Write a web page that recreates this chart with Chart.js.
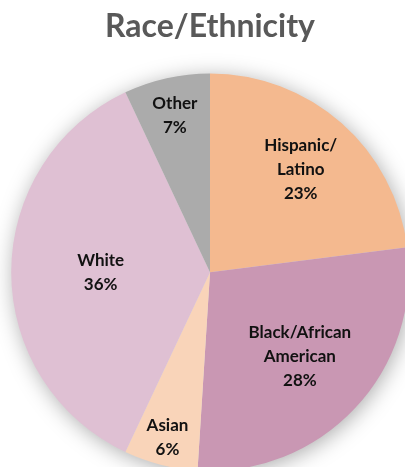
<!DOCTYPE html>
<html>
<head>
<meta charset="utf-8">
<script src="https://cdn.jsdelivr.net/npm/chart.js@4.4.0/dist/chart.umd.min.js"></script>
<style>
  html, body { margin: 0; padding: 0; background: #fff; }
  #wrap { position: relative; width: 405px; height: 467px; overflow: hidden; }
  #wrap canvas { position: absolute; left: 0; top: 0; }
</style>
</head>
<body>
<div id="wrap"><canvas id="raceChart" width="420" height="480" style="width:420px;height:480px"></canvas></div>
<script>
// Data
const categories = [['Hispanic/', 'Latino'], ['Black/African', 'American'], ['Asian'], ['White'], ['Other']];
const shares = [23, 28, 6, 36, 7];
const sliceColors = ['#F4B98F', '#C997B3', '#F9D4B9', '#DFC0D3', '#ABABAB'];
// how far out (fraction of radius) each label sits
const labelReach = [0.69, 0.62, 0.86, 0.55, 0.81];

// soft shadow under the pie
const pieShadow = {
    id: 'pieShadow',
    beforeDatasetsDraw(chart) {
        const arc = chart.getDatasetMeta(0).data[0];
        if (!arc) return;
        const ctx = chart.ctx;
        ctx.save();
        ctx.shadowColor = 'rgba(0,0,0,0.35)';
        ctx.shadowBlur = 22;
        ctx.shadowOffsetX = 2;
        ctx.shadowOffsetY = 3;
        ctx.fillStyle = '#ddd';
        ctx.beginPath();
        ctx.arc(arc.x, arc.y, arc.outerRadius - 1, 0, Math.PI * 2);
        ctx.fill();
        ctx.restore();
    }
};

// category + percent labels inside slices
const sliceLabels = {
    id: 'sliceLabels',
    afterDatasetsDraw(chart) {
        const ctx = chart.ctx;
        const meta = chart.getDatasetMeta(0);
        ctx.save();
        ctx.fillStyle = '#111';
        ctx.font = "bold 17px Lato, 'Open Sans', sans-serif";
        ctx.textAlign = 'center';
        ctx.textBaseline = 'middle';
        meta.data.forEach((arc, i) => {
            const mid = (arc.startAngle + arc.endAngle) / 2;
            const r = arc.outerRadius * labelReach[i];
            const cx = arc.x + Math.cos(mid) * r;
            const cy = arc.y + Math.sin(mid) * r;
            const lines = categories[i].concat([shares[i] + '%']);
            const lh = 24;
            const top = cy - (lines.length - 1) * lh / 2;
            lines.forEach((t, k) => ctx.fillText(t, cx, top + k * lh));
        });
        ctx.restore();
    }
};

const ctxRace = document.getElementById('raceChart').getContext('2d');
const raceChart = new Chart(ctxRace, {
    type: 'pie',
    data: {
        labels: categories.map(c => c.join(' ')),
        datasets: [{
            data: shares,
            backgroundColor: sliceColors,
            borderWidth: 0,
            hoverOffset: 0
        }]
    },
    options: {
        responsive: false,
        animation: false,
        layout: { padding: { left: 11, right: 11, bottom: 9, top: 0 } },
        plugins: {
            legend: { display: false },
            tooltip: { enabled: false },
            title: {
                display: true,
                text: 'Race/Ethnicity',
                color: '#595959',
                font: { family: "Lato, 'Open Sans', sans-serif", size: 32, weight: 'bold' },
                padding: { top: 7, bottom: 28 }
            }
        }
    },
    plugins: [pieShadow, sliceLabels]
});
</script>
</body>
</html>
